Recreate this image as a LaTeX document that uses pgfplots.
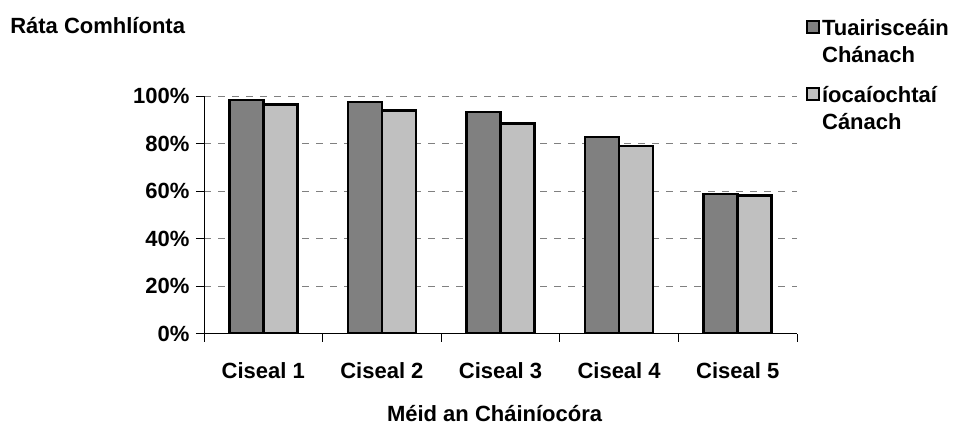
\documentclass[border=0pt]{standalone}
\usepackage{fontspec}
\setmainfont{Liberation Sans}
\usepackage{pgfplots}
\usepackage{pgfplotstable}
\pgfplotsset{compat=1.18}
\definecolor{darkbar}{HTML}{808080}
\definecolor{lightbar}{HTML}{C0C0C0}
\newcommand\lbl{\fontsize{22bp}{27bp}\selectfont\bfseries}

\pgfplotstableread{
x a b
0 98.3 96.4
1 97.5 93.8
2 93.2 88.5
3 82.8 79.0
4 58.8 58.2
}\rates

\begin{document}
\begin{tikzpicture}
\path[use as bounding box] (0,0) rectangle (967bp,-425bp);
\begin{axis}[
    at={(204bp,-333.5bp)}, anchor=south west,
    scale only axis, width=593bp, height=237.5bp,
    ybar=0pt, bar width=34bp,
    xmin=-0.5, xmax=4.5, ymin=0, ymax=100,
    xtick={-0.5,0.5,...,4.5},
    x tick label as interval,
    xticklabels={Ciseal 1,Ciseal 2,Ciseal 3,Ciseal 4,Ciseal 5},
    ytick={0,20,...,100},
    yticklabels={0\%,20\%,40\%,60\%,80\%,100\%},
    axis x line*=bottom, axis y line*=left,
    axis line style={-, black, line width=0.8bp},
    tick align=outside, major tick length=8bp,
    tick style={black, line width=0.8bp},
    ymajorgrids,
    grid style={dash pattern=on 7bp off 7bp, gray, line width=0.8bp},
    ticklabel style={font=\lbl},
    xticklabel style={anchor=base, yshift=-37bp},
    yticklabel style={xshift=-3bp},
    ylabel={Ráta Comhlíonta},
    ylabel style={rotate=-90, at={(axis description cs:-0.327,1.265)}, anchor=base west, font=\lbl, inner sep=0pt},
    xlabel={Méid an Cháiníocóra},
    xlabel style={at={(axis description cs:0.49,-0.37)}, anchor=base, font=\lbl, inner sep=0pt},
    legend style={at={(axis description cs:1.01,1.34)}, anchor=north west, draw=none, fill=none, font=\lbl,
        cells={anchor=base west, align=left}, nodes={inner xsep=2.5bp}, row sep=18bp},
    legend image code/.code={\draw[#1, line width=1.5bp] (0bp,29.4bp) rectangle (12bp,41.4bp);},
]
\addplot[fill=darkbar, draw=black, line width=2.6bp] table[x=x, y=a] {\rates};
\addplot[fill=lightbar, draw=black, line width=2.6bp] table[x=x, y=b] {\rates};
\addlegendentry{Tuairisceáin\\Chánach}
\addlegendentry{íocaíochtaí\\Cánach}
\end{axis}
\end{tikzpicture}
\end{document}
